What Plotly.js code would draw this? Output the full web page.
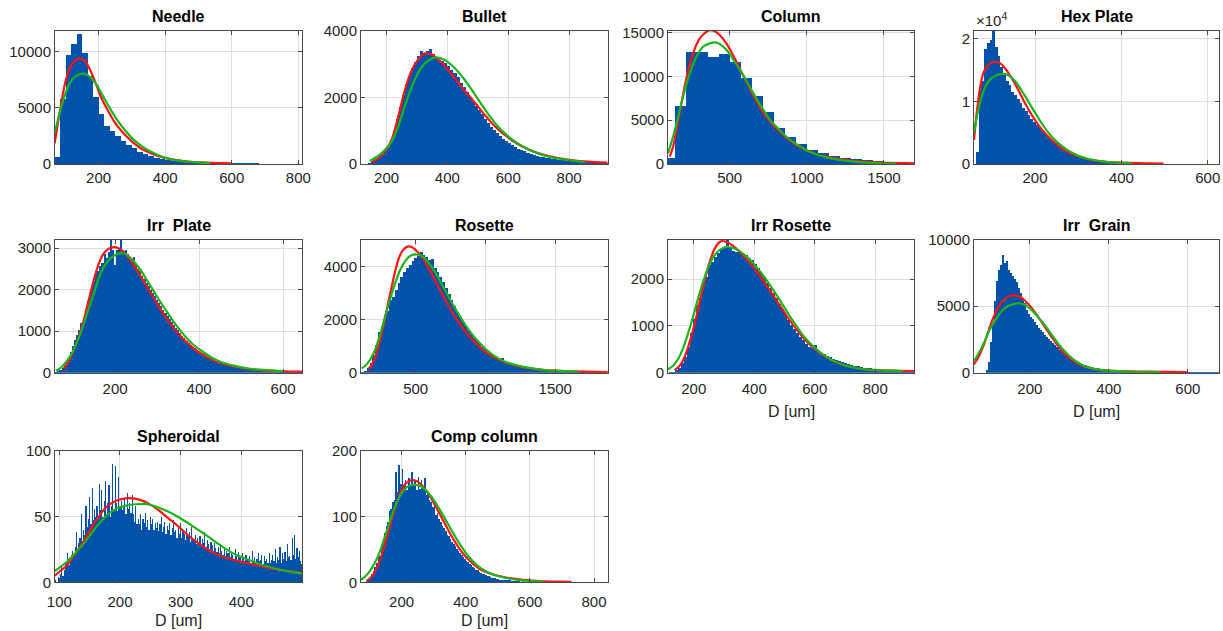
<!DOCTYPE html>
<html>
<head>
<meta charset="utf-8">
<script src="https://cdn.plot.ly/plotly-3.0.1.min.js"></script>
<style>
  html, body { margin: 0; padding: 0; background: #ffffff; }
  #chart { width: 1223px; height: 631px; }
</style>
</head>
<body>
<div id="chart"></div>
<script>
// ---------- Size distributions per habit: histogram counts and two fitted curves ----------

// Needle
const needleBins = [67.6, 16.6];            // first bin edge, bin width
const needleCounts = [600, 5820, 9700, 10750, 11640, 9940, 7900, 5970, 4480, 3430,
  2985, 2540, 2090, 1700, 1400, 1100, 900, 690, 550, 450,
  370, 300, 240, 200, 170, 150, 130, 110, 100, 90,
  80, 75, 70, 65, 60, 55, 50, 45, 40];
const needleRedX = [68, 85, 100, 115, 130, 145, 160, 175, 190, 205, 225, 245, 270, 295, 325, 355, 395, 455, 525, 600];
const needleRedY = [1850, 4925, 7310, 8660, 9250, 9400, 9160, 8360, 7310, 6120, 4925, 3880, 2895, 2150, 1430, 985, 567, 270, 120, 60];
const needleGreenX = [68, 85, 100, 115, 135, 155, 175, 195, 215, 235, 255, 280, 305, 335, 365, 405, 455, 535];
const needleGreenY = [2800, 4776, 6270, 7310, 7910, 8060, 7760, 7015, 5970, 4925, 3970, 2985, 2180, 1490, 985, 507, 240, 90];

// Bullet
const bulletBins = [140, 10];
const bulletCounts = [30, 60, 120, 190, 270, 380, 520, 690, 1000, 1350,
  1720, 2080, 2400, 2650, 2880, 3050, 3230, 3400, 3330, 3380,
  3460, 3300, 3180, 3130, 3100, 3040, 2950, 2820, 2720, 2600,
  2440, 2300, 2160, 2020, 1880, 1750, 1620, 1490, 1350, 1230,
  1120, 1010, 930, 840, 760, 700, 630, 570, 520, 460,
  420, 380, 340, 300, 280, 250, 225, 210, 190, 170,
  160, 145, 130, 120, 110, 100, 90, 80, 72, 65,
  58, 52, 48, 44, 40, 35, 32, 30, 28];
const bulletRedX = [150.7, 172.6, 194.5, 216.4, 238.3, 260.2, 282.1, 304, 325.9, 347.8, 369.7, 391.6, 413.5, 435.4, 457.3, 479.2, 501.1, 523, 544.9, 566.8, 588.7, 610.6, 643.4, 676.3, 720.1, 763.9, 807.7, 862.4, 926];
const bulletRedY = [50, 170, 370, 720, 1420, 2220, 2800, 3140, 3320, 3290, 3140, 2940, 2700, 2440, 2200, 1970, 1720, 1470, 1240, 1040, 870, 720, 540, 400, 270, 180, 120, 70, 40];
const bulletGreenX = [145.3, 172.6, 194.5, 216.4, 238.3, 260.2, 282.1, 304, 325.9, 347.8, 364.2, 391.6, 413.5, 435.4, 457.3, 479.2, 501.1, 523, 544.9, 566.8, 588.7, 610.6, 643.4, 676.3, 720.1, 763.9, 807.7, 851.5];
const bulletGreenY = [90, 240, 420, 670, 1120, 1740, 2300, 2740, 3020, 3160, 3200, 3120, 2970, 2770, 2520, 2240, 1940, 1640, 1370, 1120, 920, 750, 550, 400, 250, 160, 100, 60];

// Column
const columnBins = [77, 71.3];
const columnCounts = [645, 6600, 12800, 12750, 12200, 12500, 11650, 9800, 7750, 5950, 4150, 3100, 2300, 1600, 1200, 950, 720, 530, 420, 300, 230, 150, 110];
const columnRedX = [111.2, 132.8, 154.4, 186.8, 219.2, 262.4, 305.6, 348.8, 370.4, 402.8, 435.2, 478.4, 521.6, 564.8, 608, 651.2, 694.4, 737.6, 802.4, 867.2, 932, 1018.4, 1126.4, 1234.4, 1364, 1493.6, 1694.5];
const columnRedY = [835, 1970, 3870, 6910, 9760, 12610, 14320, 15070, 15260, 15150, 14700, 13750, 12420, 10900, 9380, 7860, 6530, 5390, 4060, 3000, 2160, 1400, 835, 490, 270, 150, 75];
const columnGreenX = [100.4, 132.8, 165.2, 197.6, 240.8, 284, 327.2, 370.4, 409.3, 446, 489.2, 532.4, 586.4, 629.6, 672.8, 716, 759.2, 802.4, 867.2, 932, 1018.4, 1126.4, 1234.4, 1364, 1493.6, 1580];
const columnGreenY = [1215, 3110, 5390, 7670, 10330, 12230, 13370, 13750, 13860, 13560, 12800, 11660, 10140, 8810, 7480, 6230, 5090, 4250, 3110, 2280, 1400, 760, 420, 190, 76, 38];

// Hex Plate
const hexBins = [57, 6.3];
const hexCounts = [0, 1970, 11800, 13200, 18300, 19300, 19800, 21800, 18700, 17200,
  15500, 14200, 13200, 12600, 11500, 11000, 10400, 9700, 9000, 8400,
  7800, 7200, 6700, 6200, 5700, 5200, 4800, 4400, 4000, 3600,
  3300, 3000, 2700, 2400, 2150, 1950, 1750, 1550, 1380, 1220,
  1080, 950, 840, 740, 650, 570, 500, 440, 390, 340,
  300, 270, 240, 215, 195, 175, 160, 145, 135, 125,
  115, 108, 100, 95, 90, 85, 80, 75, 70, 66,
  62, 58, 55, 52, 50, 48, 45, 42];
const hexRedX = [58.7, 64.9, 72.6, 80.3, 91.9, 107.3, 118.9, 130.5, 145.9, 161.4, 176.8, 192.3, 207.7, 223.2, 238.6, 254.1, 269.5, 292.7, 323.6, 354.4, 400.8, 462.5, 497.3];
const hexRedY = [3840, 8110, 12110, 14510, 15840, 16370, 16110, 15310, 13710, 11840, 9710, 7840, 6240, 4910, 3840, 2880, 2130, 1390, 750, 430, 210, 110, 80];
const hexGreenX = [58.7, 68.6, 80.3, 91.9, 107.3, 124.3, 138.2, 153.7, 169.1, 184.6, 200, 215.4, 230.9, 246.3, 261.8, 277.2, 300.4, 323.6, 354.4, 385.3, 423.9];
const hexGreenY = [5010, 8640, 11570, 13170, 14080, 14400, 14190, 13280, 11730, 9970, 8210, 6510, 5010, 3840, 2880, 2130, 1330, 800, 430, 210, 110];

// Irr Plate
const irrPlateBins = [57.5, 5];
const irrPlateCounts = [20, 40, 70, 120, 190, 270, 370, 500, 650, 780,
  900, 1040, 1200, 1320, 1530, 1720, 1900, 2050, 2200, 2450,
  2450, 2560, 2650, 2850, 2760, 2900, 3300, 2950, 2600, 2960,
  3000, 3300, 2930, 2950, 2860, 2800, 2720, 2780, 2600, 2500,
  2440, 2340, 2260, 2170, 2090, 2000, 1920, 1840, 1760, 1680,
  1600, 1520, 1440, 1370, 1290, 1220, 1150, 1080, 1020, 950,
  880, 830, 770, 720, 670, 620, 590, 540, 500, 470,
  430, 400, 375, 350, 325, 305, 285, 265, 245, 230,
  215, 200, 188, 175, 165, 155, 145, 135, 128, 120,
  112, 105, 98, 92, 88, 82, 78, 74, 70, 66,
  64, 61, 58, 56, 54, 52, 50, 48, 47, 45,
  43, 42, 40, 38, 36, 34, 32, 30];
const irrPlateRedX = [76.7, 84.7, 92.6, 100.6, 112.5, 124.5, 136.4, 148.3, 160.2, 172.2, 184.1, 197.6, 208, 219.9, 235.8, 251.7, 267.6, 283.5, 299.4, 315.3, 331.2, 347.1, 363, 378.9, 394.8, 418.7, 442.5, 466.4, 498.2, 530, 561.8, 601.6, 645];
const irrPlateRedY = [88, 185, 330, 507, 828, 1231, 1713, 2196, 2598, 2863, 2984, 3024, 3000, 2920, 2719, 2477, 2212, 1938, 1673, 1416, 1190, 989, 804, 651, 523, 378, 265, 185, 121, 72, 48, 32, 24];
const irrPlateGreenX = [59.3, 68.8, 80.7, 92.6, 104.6, 116.5, 128.4, 140.4, 152.3, 164.2, 176.1, 188.1, 204, 215.9, 227.8, 243.7, 259.6, 275.5, 291.5, 307.4, 323.3, 339.2, 355.1, 371, 386.9, 402.8, 426.6, 450.5, 482.3, 514.1, 545.9, 577.7, 601.6];
const irrPlateGreenY = [48, 105, 225, 386, 627, 909, 1271, 1633, 1995, 2357, 2598, 2743, 2855, 2879, 2839, 2694, 2493, 2236, 1971, 1713, 1472, 1231, 1021, 828, 668, 547, 386, 265, 169, 105, 72, 48, 40];

// Rosette
const rosetteBins = [110, 20];
const rosetteCounts = [30, 80, 180, 380, 660, 1050, 1550, 1720, 2200, 2320,
  2750, 2870, 3140, 3400, 3620, 3800, 3970, 4090, 4220, 4330,
  4420, 4560, 4440, 4380, 4280, 4300, 3980, 3800, 3620, 3420,
  3200, 2970, 2750, 2520, 2300, 2100, 1920, 1760, 1600, 1460,
  1330, 1200, 1090, 980, 880, 790, 710, 640, 570, 510,
  560, 410, 370, 330, 295, 265, 240, 215, 190, 170,
  150, 135, 120, 110, 100, 90, 80, 72, 65, 58,
  52, 48, 45, 42, 40, 37, 34, 31, 28, 25,
  23, 21, 19, 17, 15, 13, 12, 11];
const rosetteRedX = [160.3, 184.3, 208.2, 232.1, 256, 280, 303.9, 327.8, 351.7, 375.6, 399.5, 423.5, 447.4, 471.3, 495.2, 531.1, 567, 614.8, 662.7, 710.5, 758.3, 806.2, 854, 901.9, 949.7, 997.5, 1045.4, 1093.2, 1141, 1236.7, 1332.4, 1428.1, 1571.6, 1715.1, 1877];
const rosetteRedY = [138, 289, 566, 981, 1484, 2051, 2680, 3246, 3812, 4277, 4567, 4718, 4780, 4755, 4667, 4466, 4189, 3749, 3246, 2780, 2327, 1925, 1573, 1271, 1019, 793, 629, 503, 390, 239, 151, 101, 63, 38, 25];
const rosetteGreenX = [112.5, 136.4, 172.3, 208.2, 244.1, 280, 315.8, 351.7, 387.6, 423.5, 459.3, 495.2, 531.1, 567, 614.8, 662.7, 710.5, 758.3, 806.2, 854, 901.9, 949.7, 997.5, 1045.4, 1093.2, 1141, 1236.7, 1332.4, 1428.1, 1571.6, 1667.3];
const rosetteGreenY = [164, 252, 478, 855, 1422, 2113, 2768, 3371, 3875, 4214, 4416, 4478, 4453, 4315, 4000, 3585, 3120, 2654, 2227, 1824, 1472, 1170, 918, 704, 541, 415, 264, 164, 101, 63, 38];

// Irr Rosette
const irrRosetteBins = [118, 10];
const irrRosetteCounts = [10, 25, 55, 100, 200, 340, 560, 850, 1150, 1450,
  1600, 1880, 2040, 2300, 2360, 2480, 2560, 2650, 2700, 2870,
  2660, 2610, 2580, 2570, 2550, 2510, 2460, 2410, 2330, 2250,
  2140, 2040, 1930, 1810, 1700, 1590, 1470, 1360, 1250, 1130,
  1030, 930, 840, 760, 690, 620, 560, 520, 600, 470,
  430, 390, 360, 330, 300, 270, 245, 220, 200, 180,
  165, 150, 135, 120, 110, 100, 92, 85, 78, 72,
  67, 63, 59, 54, 50, 48, 45, 43, 40, 38,
  36];
const irrRosetteRedX = [137.2, 153.8, 170.3, 186.8, 203.3, 219.8, 236.3, 252.8, 269.4, 285.9, 296.9, 318.9, 340.9, 362.9, 385, 407, 429, 451, 473, 495, 517, 539, 561, 583, 605, 627, 649, 671, 693, 726, 759, 803, 858, 928];
const irrRosetteRedY = [57, 149, 342, 662, 1053, 1516, 1978, 2370, 2655, 2797, 2818, 2761, 2655, 2512, 2356, 2171, 1978, 1765, 1552, 1338, 1124, 932, 754, 605, 484, 377, 292, 221, 171, 114, 78, 57, 43, 36];
const irrRosetteGreenX = [115.2, 131.7, 148.3, 164.8, 181.3, 197.8, 214.3, 230.8, 247.3, 263.9, 280.4, 296.9, 313.4, 340.9, 362.9, 385, 407, 429, 451, 473, 495, 517, 539, 561, 583, 605, 627, 649, 671, 693, 726, 759, 803, 858, 891];
const irrRosetteGreenY = [71, 149, 292, 520, 840, 1196, 1587, 1943, 2242, 2462, 2598, 2669, 2690, 2640, 2548, 2420, 2263, 2085, 1886, 1672, 1445, 1217, 1003, 804, 641, 505, 391, 299, 228, 171, 114, 78, 57, 43, 36];

// Irr Grain
const irrGrainBins = [90, 5];
const irrGrainCounts = [200, 800, 2300, 3700, 5400, 6900, 7700, 8100, 8800, 8200,
  8400, 7700, 7450, 7250, 7000, 6800, 6350, 6000, 5550, 5200,
  4700, 4400, 4200, 4050, 3800, 3550, 3350, 3200, 3050, 2800,
  2650, 2500, 2350, 2200, 2050, 1950, 1830, 1720, 1600, 1480,
  1380, 1270, 1160, 1060, 970, 880, 810, 740, 670, 610,
  550, 500, 460, 420, 385, 355, 325, 300, 275, 255,
  235, 225, 215, 205, 200, 195, 185, 180, 175, 170,
  162, 156, 150, 148, 142, 136, 130, 126, 122, 118,
  114, 110, 106, 102, 100, 96, 92, 88, 85, 82,
  80, 78, 76, 75, 75, 74, 74, 73, 72, 72,
  70, 70, 68, 66, 64, 62, 60, 58, 56, 55,
  54, 53, 52, 51, 50, 50, 50, 50];
const irrGrainRedX = [58.5, 71.2, 83.8, 96.4, 109, 121.7, 134.3, 146.9, 159.6, 172.2, 189.1, 205.9, 222.7, 239.6, 256.4, 273.3, 290.1, 306.9, 323.8, 340.6, 365.9, 399.6, 450.1, 500.6, 597.5];
const irrGrainRedY = [624, 1247, 2120, 3242, 4240, 4988, 5487, 5736, 5811, 5736, 5362, 4813, 4115, 3367, 2619, 1920, 1372, 948, 648, 424, 249, 150, 100, 75, 50];
const irrGrainGreenX = [58.5, 71.2, 83.8, 96.4, 113.3, 130.1, 146.9, 163.8, 172.2, 189.1, 205.9, 222.7, 239.6, 256.4, 273.3, 290.1, 306.9, 323.8, 340.6, 365.9, 399.6, 450.1, 530];
const irrGrainGreenY = [873, 1496, 2245, 3118, 3990, 4664, 5038, 5188, 5213, 5063, 4664, 4115, 3492, 2793, 2120, 1546, 1072, 723, 474, 274, 150, 75, 50];

// Spheroidal
const spheroidalBins = [93, 2];
const spheroidalCounts = [2, 0, 4, 3,
  6, 12, 5, 9, 14,   15, 22, 13, 18, 21,   24, 20, 27, 38, 25,   30, 34, 52, 29, 40,
  36, 58, 42, 48, 65,   44, 72, 47, 56, 50,   58, 48, 75, 55, 70,   50, 62, 77, 52, 60,
  74, 50, 58, 90, 55,   88, 60, 54, 80, 58,   62, 55, 57, 64, 52,   68, 56, 60, 53, 66,
  52, 46, 58, 44, 48,   44, 52, 40, 48, 45,   53, 42, 47, 40, 50,   44, 48, 40, 45, 41,
  46, 39, 44, 50, 38,   42, 46, 37, 43, 40,   45, 36, 41, 47, 38,   40, 34, 42, 37, 45,
  34, 40, 37, 32, 41,   35, 38, 31, 42, 33,   32, 36, 29, 34, 31,   35, 28, 33, 30, 38,
  27, 32, 29, 25, 31,   28, 24, 30, 26, 23,   27, 22, 29, 24, 21,   25, 20, 24, 22, 27,
  19, 23, 21, 18, 25,   20, 17, 23, 19, 16,   22, 18, 16, 21, 17,   16, 20, 15, 24, 16,
  19, 15, 18, 22, 16,   17, 21, 14, 20, 16,   18, 15, 22, 15, 17,   21, 16, 25, 15, 19,
  17, 27, 15, 22, 18,   23, 16, 29, 19, 20,   17, 34, 21, 36, 18,   26, 19, 24, 16, 14];
const spheroidalRedX = [92.4, 101, 112.6, 127.9, 144.3, 160.7, 177, 193.4, 209.8, 220.8, 231.7, 248, 264.5, 280.9, 297.3, 313.7, 330, 346.4, 362.8, 379.2, 395.6, 412, 433.9, 455.7, 477.6, 500];
const spheroidalRedY = [5, 8.4, 13, 23, 34.4, 47, 57, 62, 63.8, 63.8, 62.8, 59.6, 54.5, 48.2, 42, 35.2, 29.4, 24.4, 20.6, 18.1, 16.1, 14.3, 12.3, 10, 8.5, 7.2];
const spheroidalGreenX = [92.4, 112.6, 127.9, 144.3, 160.7, 177, 193.4, 209.8, 226.2, 242.6, 259, 275.4, 291.8, 308.2, 324.6, 341, 357.4, 373.8, 390.2, 406.5, 422.9, 444.8, 466.6, 500];
const spheroidalGreenY = [8.5, 15.6, 23, 31.9, 42, 50.3, 55.8, 58.3, 59.3, 59.6, 57.5, 54.5, 50.8, 46.2, 41.2, 36.2, 30.7, 25.6, 21.1, 18.1, 15.1, 11.8, 9.3, 6.6];

// Comp column
const compBins = [75, 5];
const compCounts = [0, 0, 1, 2, 4, 8, 12, 17, 24, 30,
  45, 40, 58, 62, 75, 85, 92, 108, 112, 122,
  125, 168, 138, 178, 150, 172, 148, 155, 140, 158,
  148, 168, 150, 155, 140, 160, 142, 155, 145, 158,
  132, 138, 125, 122, 115, 118, 102, 105, 96, 92,
  85, 82, 78, 72, 70, 66, 62, 58, 55, 50,
  48, 44, 41, 38, 35, 33, 31, 28, 26, 24,
  22, 19, 18, 16, 14, 13, 12, 11, 10, 9,
  8, 7, 7, 6, 5, 5, 4, 4, 4, 3,
  3, 3, 3, 2, 2, 2, 2, 2, 2, 1,
  2, 1, 1, 1, 1, 1, 1, 1, 1, 1,
  0, 1, 0, 1, 0, 1, 0, 0, 1, 0,
  0, 1, 0, 0, 0, 0, 0, 0, 0, 1,
  0, 0, 0, 0, 0, 1, 0, 0, 0, 0,
  0, 0, 0, 0, 1, 0, 0, 0, 0, 0,
  0, 0, 1, 0];
const compRedX = [91, 106.6, 122.2, 137.7, 153.3, 168.9, 184.4, 200, 215.6, 231.1, 246.7, 262.3, 283, 303.8, 324.6, 345.3, 366.1, 386.8, 407.6, 428.4, 449.1, 480.3, 521.8, 573.7, 625.6, 687.9, 729.4];
const compRedY = [2, 8.6, 21.3, 41.5, 66.8, 94.7, 120, 140.2, 151.4, 155.4, 153.9, 147.8, 135.2, 117.5, 98.7, 79.5, 61.8, 46.6, 34.9, 25.8, 18.7, 12.7, 7.6, 4.1, 2, 1, 0.5];
const compGreenX = [73.4, 91, 106.6, 122.2, 137.7, 153.3, 168.9, 184.4, 200, 215.6, 231.1, 246.7, 262.3, 283, 303.8, 324.6, 345.3, 366.1, 386.8, 407.6, 428.4, 449.1, 480.3, 521.8, 573.7, 641.2];
const compGreenY = [3.5, 11.1, 21.3, 34.9, 54.2, 77, 100.8, 121, 135.2, 144.3, 147.8, 147.8, 145.3, 136.2, 122.5, 105.8, 88.1, 70.4, 54.2, 40, 28.9, 20.8, 12.7, 7.1, 3, 1];

// Panel titles and tick values
const panelTitles = ['Needle', 'Bullet', 'Column', 'Hex Plate', 'Irr \u00a0Plate', 'Rosette', 'Irr Rosette', 'Irr \u00a0Grain', 'Spheroidal', 'Comp column'];
const xTickVals = [[200, 400, 600, 800], [200, 400, 600, 800], [500, 1000, 1500], [200, 400, 600],
  [200, 400, 600], [500, 1000, 1500], [200, 400, 600, 800], [200, 400, 600],
  [100, 200, 300, 400], [200, 400, 600, 800]];
const yTickVals = [[0, 5000, 10000], [0, 2000, 4000], [0, 5000, 10000, 15000], [0, 10000, 20000],
  [0, 1000, 2000, 3000], [0, 2000, 4000], [0, 1000, 2000], [0, 5000, 10000],
  [0, 50, 100], [0, 100, 200]];
const hexTickText = ['0', '1', '2'];
const xLabel = 'D [um]';

// ---------- layout helpers ----------
const W = 1223, H = 631;
const FONT = 'Liberation Sans, Arial, Helvetica, sans-serif';
const BAR_COLOR = '#0052AA';
const RED = '#FF1414';
const GREEN = '#1DB31D';
const AXIS_COLOR = '#262626';
const BOX_COLOR = '#4a4a4a';

const colPx = [[55, 302], [361, 608], [668, 914], [974, 1219]];
const rowPx = [[30.7, 164], [239.5, 372.7], [450.7, 582.3]];
const rowLabelStandoff = [0, 2, 6];

const panels = [
  {bins: needleBins, counts: needleCounts, red: [needleRedX, needleRedY], green: [needleGreenX, needleGreenY], xr: [69, 811], yr: [0, 11900]},
  {bins: bulletBins, counts: bulletCounts, red: [bulletRedX, bulletRedY], green: [bulletGreenX, bulletGreenY], xr: [116, 928], yr: [0, 4000]},
  {bins: columnBins, counts: columnCounts, red: [columnRedX, columnRedY], green: [columnGreenX, columnGreenY], xr: [100, 1695], yr: [0, 15200]},
  {bins: hexBins, counts: hexCounts, red: [hexRedX, hexRedY], green: [hexGreenX, hexGreenY], xr: [58.7, 626], yr: [0, 21300]},
  {bins: irrPlateBins, counts: irrPlateCounts, red: [irrPlateRedX, irrPlateRedY], green: [irrPlateGreenX, irrPlateGreenY], xr: [57, 645], yr: [0, 3210]},
  {bins: rosetteBins, counts: rosetteCounts, red: [rosetteRedX, rosetteRedY], green: [rosetteGreenX, rosetteGreenY], xr: [108, 1878], yr: [0, 5040]},
  {bins: irrRosetteBins, counts: irrRosetteCounts, red: [irrRosetteRedX, irrRosetteRedY], green: [irrRosetteGreenX, irrRosetteGreenY], xr: [115, 928], yr: [0, 2850]},
  {bins: irrGrainBins, counts: irrGrainCounts, red: [irrGrainRedX, irrGrainRedY], green: [irrGrainGreenX, irrGrainGreenY], xr: [58.5, 679], yr: [0, 10000]},
  {bins: spheroidalBins, counts: spheroidalCounts, red: [spheroidalRedX, spheroidalRedY], green: [spheroidalGreenX, spheroidalGreenY], xr: [92.8, 500.2], yr: [0, 100]},
  {bins: compBins, counts: compCounts, red: [compRedX, compRedY], green: [compGreenX, compGreenY], xr: [73.4, 843.6], yr: [0, 200]}
];
const withXLabel = [6, 7, 8, 9];

const traces = [];
const layout = {
  width: W, height: H,
  margin: {l: 0, r: 0, t: 0, b: 0},
  paper_bgcolor: '#ffffff',
  plot_bgcolor: 'rgba(0,0,0,0)',
  showlegend: false,
  bargap: 0,
  font: {family: FONT, color: AXIS_COLOR},
  annotations: []
};

panels.forEach((p, i) => {
  const n = i === 0 ? '' : String(i + 1);
  const col = i % 4, row = Math.floor(i / 4);
  const [x0, x1] = colPx[col];
  const [top, bottom] = rowPx[row];

  const centers = p.counts.map((_, k) => p.bins[0] + (k + 0.5) * p.bins[1]);
  traces.push({
    type: 'bar', x: centers, y: p.counts, width: p.bins[1],
    marker: {color: BAR_COLOR, line: {width: 0}},
    xaxis: 'x' + n, yaxis: 'y' + n, hoverinfo: 'skip'
  });
  traces.push({
    type: 'scatter', mode: 'lines', x: p.red[0], y: p.red[1],
    line: {color: RED, width: 2.2, shape: 'spline', smoothing: 0.7},
    xaxis: 'x' + n, yaxis: 'y' + n, hoverinfo: 'skip', cliponaxis: true
  });
  traces.push({
    type: 'scatter', mode: 'lines', x: p.green[0], y: p.green[1],
    line: {color: GREEN, width: 2.2, shape: 'spline', smoothing: 0.7},
    xaxis: 'x' + n, yaxis: 'y' + n, hoverinfo: 'skip', cliponaxis: true
  });

  const common = {
    showgrid: true, gridcolor: '#dedede', gridwidth: 1, zeroline: false,
    showline: true, linecolor: BOX_COLOR, linewidth: 1, mirror: 'ticks',
    ticks: 'inside', ticklen: 4, tickwidth: 1, tickcolor: BOX_COLOR,
    tickfont: {family: FONT, size: 15, color: AXIS_COLOR},
    fixedrange: true, automargin: false, tickformat: 'd'
  };
  layout['xaxis' + n] = Object.assign({}, common, {
    domain: [x0 / W, x1 / W], range: p.xr, anchor: 'y' + n,
    tickmode: 'array', tickvals: xTickVals[i],
    ticklabelstandoff: rowLabelStandoff[row]
  });
  const yax = Object.assign({}, common, {
    domain: [1 - bottom / H, 1 - top / H], range: p.yr, anchor: 'x' + n,
    tickmode: 'array', tickvals: yTickVals[i]
  });
  if (i === 3) yax.ticktext = hexTickText;
  layout['yaxis' + n] = yax;

  layout.annotations.push({
    text: panelTitles[i], xref: 'paper', yref: 'paper',
    x: (x0 + x1) / 2 / W, y: 1 - (top - 14.5) / H,
    xanchor: 'center', yanchor: 'middle', showarrow: false,
    font: {family: FONT, size: 16, color: '#000000', weight: 'bold'}
  });
  if (withXLabel.includes(i)) {
    layout.annotations.push({
      text: xLabel, xref: 'paper', yref: 'paper',
      x: (x0 + x1) / 2 / W, y: 1 - (bottom + 38.5) / H,
      xanchor: 'center', yanchor: 'middle', showarrow: false,
      font: {family: FONT, size: 16, color: AXIS_COLOR}
    });
  }
});

// exponent label of the Hex Plate count axis
layout.annotations.push({
  text: '\u00d710<sup>4</sup>', xref: 'paper', yref: 'paper',
  x: 974 / W, y: 1 - 19 / H, xanchor: 'left', yanchor: 'middle', showarrow: false,
  font: {family: FONT, size: 15, color: AXIS_COLOR}
});

Plotly.newPlot('chart', traces, layout, {staticPlot: true, displayModeBar: false});
</script>
</body>
</html>
